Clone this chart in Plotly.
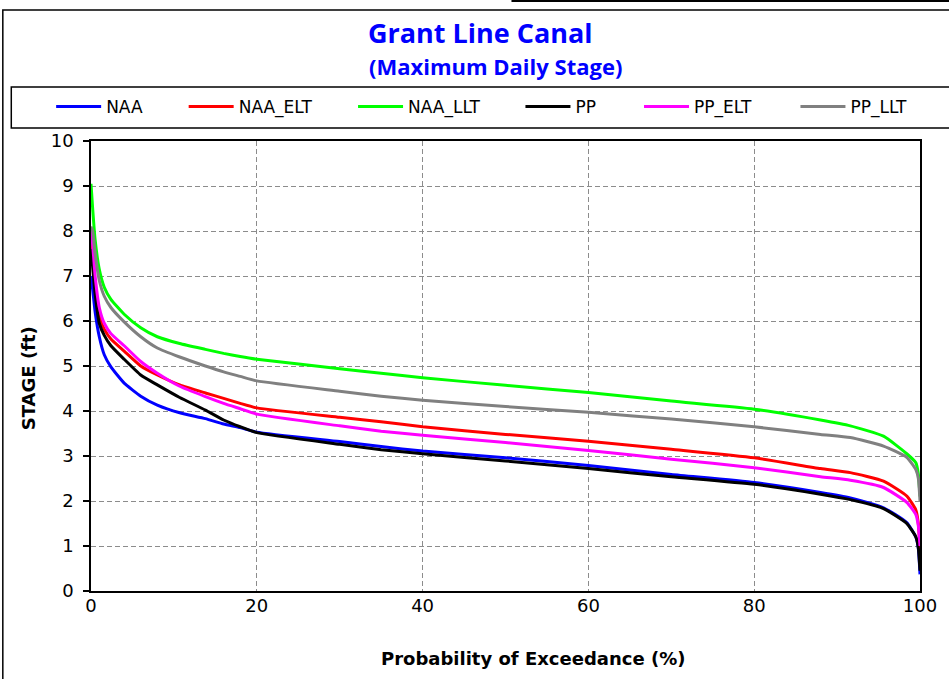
import plotly.graph_objects as go

# ---- data ----
exceedance = [0, 0.2, 0.5, 1, 1.6, 2.4, 4, 6, 8, 10.7, 13.8, 16, 18, 20, 30, 35, 40,
              50, 60, 70, 80, 88, 91.6, 95.6, 98.4, 99.5, 99.8, 100]

naa     = [7.0, 6.7, 6.2, 5.65, 5.25, 4.98, 4.62, 4.33, 4.13, 3.96, 3.83, 3.71, 3.63, 3.53, 3.32, 3.21, 3.11,
           2.96, 2.79, 2.59, 2.41, 2.19, 2.07, 1.85, 1.52, 1.2, 0.95, 0.37]
naa_elt = [7.9, 7.5, 6.8, 6.1, 5.82, 5.6, 5.33, 5.0, 4.8, 4.58, 4.4, 4.28, 4.17, 4.07, 3.86, 3.76, 3.65,
           3.48, 3.33, 3.15, 2.96, 2.72, 2.63, 2.44, 2.11, 1.8, 1.5, 0.93]
naa_llt = [9.05, 8.5, 7.8, 7.15, 6.75, 6.48, 6.15, 5.85, 5.65, 5.5, 5.37, 5.28, 5.21, 5.15, 4.94, 4.84, 4.74,
           4.57, 4.41, 4.22, 4.04, 3.80, 3.67, 3.44, 3.05, 2.85, 2.6, 2.1]
pp      = [7.6, 7.2, 6.6, 5.95, 5.68, 5.45, 5.15, 4.8, 4.58, 4.3, 4.02, 3.8, 3.65, 3.52, 3.26, 3.14, 3.05,
           2.89, 2.72, 2.54, 2.37, 2.15, 2.03, 1.83, 1.50, 1.2, 0.95, 0.45]
pp_elt  = [8.05, 7.7, 7.0, 6.3, 5.95, 5.72, 5.45, 5.1, 4.84, 4.55, 4.32, 4.17, 4.05, 3.93, 3.67, 3.55, 3.46,
           3.30, 3.12, 2.93, 2.74, 2.54, 2.46, 2.30, 1.97, 1.7, 1.45, 1.0]
pp_llt  = [8.1, 8.0, 7.5, 6.9, 6.55, 6.3, 5.98, 5.65, 5.4, 5.2, 5.0, 4.87, 4.77, 4.67, 4.44, 4.33, 4.24,
           4.10, 3.97, 3.82, 3.65, 3.48, 3.41, 3.22, 2.97, 2.7, 2.5, 2.0]

series_names = ["NAA", "NAA_ELT", "NAA_LLT", "PP", "PP_ELT", "PP_LLT"]
series_values = [naa, naa_elt, naa_llt, pp, pp_elt, pp_llt]
series_colors = ["#0000FF", "#FF0000", "#00FF00", "#000000", "#FF00FF", "#808080"]

x_ticks = [0, 20, 40, 60, 80, 100]
y_ticks = list(range(0, 11))

# ---- layout geometry (screen pixels; page body margin removed in post_script) ----
W, H = 949, 679
L, R, T, B = 91, 923, 141, 591


def px(xs):
    return (xs - L) / (R - L)


def py(ys):
    return (B - ys) / (B - T)


legend_text_starts = [106, 239, 409, 577, 696, 853]
ITEMW = 45

fig = go.Figure()
layout_legends = {}
for i, (name, vals, col) in enumerate(zip(series_names, series_values, series_colors)):
    key = "legend" if i == 0 else f"legend{i + 1}"
    fig.add_trace(go.Scatter(
        x=exceedance, y=vals, mode="lines", name=name,
        line=dict(color=col, width=3, shape="spline", smoothing=0.5),
        legend=key,
    ))
    layout_legends[key] = dict(
        x=px(legend_text_starts[i] - ITEMW - 10), xanchor="left",
        y=py(107), yanchor="middle",
        orientation="h", bgcolor="rgba(0,0,0,0)", borderwidth=0,
        font=dict(family="DejaVu Sans", size=17, color="#000000"),
        itemwidth=ITEMW, tracegroupgap=0,
    )

grid = dict(showgrid=True, gridcolor="#8c8c8c", gridwidth=1, griddash="5px,3px")

fig.update_layout(
    width=W, height=H,
    margin=dict(l=L, r=W - R, t=T, b=H - B, pad=0),
    paper_bgcolor="white", plot_bgcolor="white",
    showlegend=True,
    xaxis=dict(range=[0, 100], tickvals=x_ticks, ticks="", showline=True, linecolor="#000000",
               linewidth=1.5, mirror=True, zeroline=False, ticklabelstandoff=-2,
               tickfont=dict(family="DejaVu Sans", size=18, color="#000000"), **grid),
    yaxis=dict(range=[0, 10], tickvals=y_ticks, ticks="outside", ticklen=6, tickwidth=1.5,
               tickcolor="#000000", showline=True, linecolor="#000000", linewidth=1.5,
               mirror=True, zeroline=False, ticklabelstandoff=6,
               tickfont=dict(family="DejaVu Sans", size=18, color="#000000"), **grid),
    **layout_legends,
)

shapes = [
    # outer chart frame
    dict(type="rect", xref="paper", yref="paper", x0=px(2.5), x1=px(970), y0=py(710), y1=py(10),
         line=dict(color="#000000", width=1.5), layer="below"),
    # neighbouring frame edge at top right
    dict(type="line", xref="paper", yref="paper", x0=px(513), x1=px(970), y0=py(1), y1=py(1),
         line=dict(color="#000000", width=2)),
    # legend box
    dict(type="rect", xref="paper", yref="paper", x0=px(11), x1=px(970), y0=py(128), y1=py(87),
         line=dict(color="#000000", width=1.5)),
]
fig.update_layout(shapes=shapes)

annotations = [
    dict(text="<b>Grant Line Canal</b>", x=px(482), y=py(32), xref="paper", yref="paper",
         xanchor="center", yanchor="middle", showarrow=False,
         font=dict(family="Open Sans", size=27, color="#0000FF")),
    dict(text="<b>(Maximum Daily Stage)</b>", x=px(497), y=py(66), xref="paper", yref="paper",
         xanchor="center", yanchor="middle", showarrow=False,
         font=dict(family="Open Sans", size=22, color="#0000FF")),
    dict(text="<b>Probability of Exceedance (%)</b>", x=px(535), y=py(658), xref="paper", yref="paper",
         xanchor="center", yanchor="middle", showarrow=False,
         font=dict(family="DejaVu Sans", size=18, color="#000000")),
    dict(text="<b>STAGE (ft)</b>", x=px(28), y=py(378), xref="paper", yref="paper",
         xanchor="center", yanchor="middle", showarrow=False, textangle=-90,
         font=dict(family="DejaVu Sans", size=18, color="#000000")),
]
fig.update_layout(annotations=annotations)

fig.write_html("out.html",
               config={"displayModeBar": False},
               post_script="document.body.style.margin='0';document.body.style.overflow='hidden';")
